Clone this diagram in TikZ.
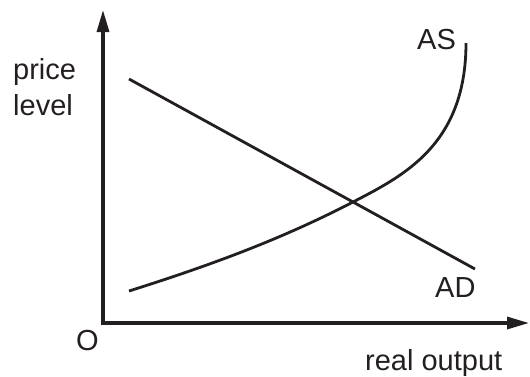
\documentclass[tikz,border=0pt]{standalone}
\usepackage{fontspec}
\setmainfont{Liberation Sans}
\usetikzlibrary{arrows.meta}
\definecolor{ink}{RGB}{35,31,32}
\begin{document}
\begin{tikzpicture}[x=1pt,y=-1pt,
  axis/.style={draw=ink,line width=3.2pt,-{Triangle[length=22pt,width=12pt]}},
  curve/.style={draw=ink,line width=2.8pt},
  lbl/.style={inner sep=0pt,anchor=base west,text=ink,font=\fontsize{29}{34}\selectfont}]
\useasboundingbox (0,0) rectangle (530,376);
\coordinate (O) at (103,323);
\coordinate (ytip) at (103,10);
\coordinate (xtip) at (529,323);
\draw[axis] ([yshift=1.6pt]O) -- (ytip);
\draw[axis] ([xshift=-1.6pt]O) -- (xtip);
% AD
\coordinate (ad1) at (129,79);
\coordinate (ad2) at (475,269);
\draw[curve] (ad1) -- (ad2);
% AS
\coordinate (as1) at (129,291);
\coordinate (eq) at (353,202);
\coordinate (as2) at (466,43);
\draw[curve] (as1) .. controls (204,267.3) and (278,241) .. (eq)
  .. controls (403,176) and (466,145) .. (as2);
% labels
\node[lbl] (price) at (13,79) {price};
\node[lbl] (level) at (13,115) {level};
\node[lbl] (AS) at (417,49) {AS};
\node[lbl] (AD) at (435,297) {AD};
\node[lbl] (Olbl) at (76,350) {O};
\node[lbl] (xlbl) at (365,370) {real output};
\end{tikzpicture}
\end{document}
